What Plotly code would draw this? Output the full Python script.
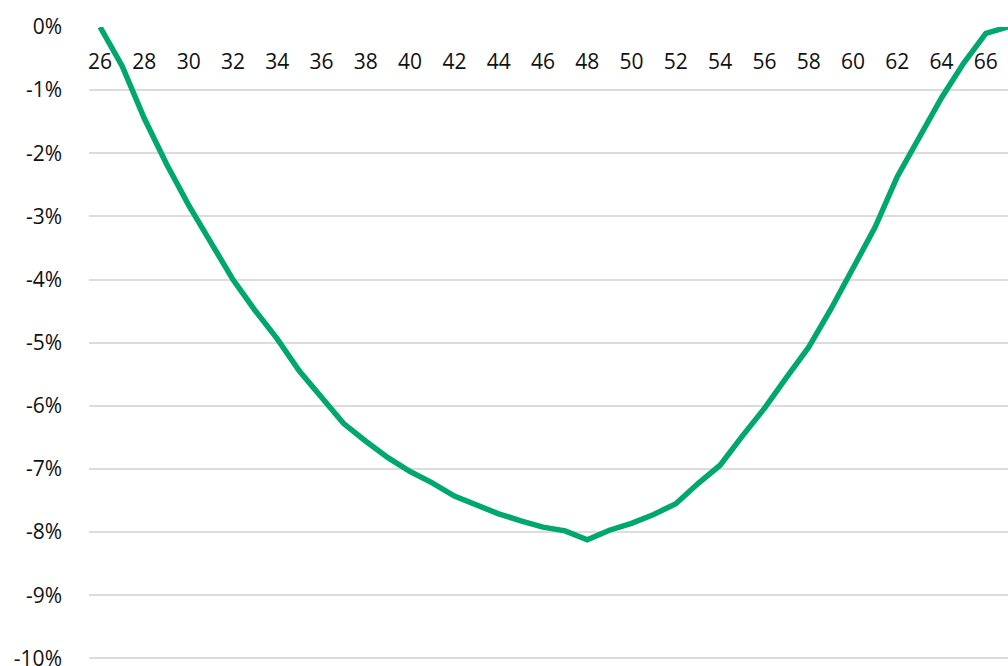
import plotly.graph_objects as go

ages = list(range(26, 68))
values = [0.0, -0.62, -1.45, -2.17, -2.82, -3.43, -4.00, -4.49, -4.94, -5.45,
          -5.88, -6.28, -6.56, -6.82, -7.04, -7.22, -7.43, -7.57, -7.71, -7.82,
          -7.92, -7.98, -8.12, -7.97, -7.86, -7.72, -7.55, -7.23, -6.94, -6.48,
          -6.04, -5.55, -5.07, -4.47, -3.82, -3.17, -2.37, -1.76, -1.12, -0.57,
          -0.10, 0.0]

y_tick_vals = [0, -1, -2, -3, -4, -5, -6, -7, -8, -9, -10]
y_tick_text = ["0%", "-1%", "-2%", "-3%", "-4%", "-5%", "-6%", "-7%", "-8%", "-9%", "-10%"]
x_tick_vals = list(range(26, 67, 2))
x_tick_text = [str(v) for v in x_tick_vals]

fig = go.Figure()
fig.add_trace(go.Scatter(
    x=ages, y=values, mode="lines",
    line=dict(color="#00A86E", width=5.5),
    hoverinfo="skip", showlegend=False,
))

font = dict(family="Open Sans", size=21, color="#111111")

fig.update_layout(
    width=1008, height=666,
    margin=dict(l=89, r=0, t=27, b=0, autoexpand=False),
    paper_bgcolor="white", plot_bgcolor="white",
    font=font,
    xaxis=dict(
        range=[25.5, 67.0],
        tickvals=x_tick_vals, ticktext=x_tick_text,
        showgrid=False, zeroline=False, showline=False, ticks="",
        anchor="free", position=1, side="bottom",
        ticklabelstandoff=20,
        ticklabeloverflow="allow",
        automargin=False,
        tickfont=font,
    ),
    yaxis=dict(
        range=[-10.12, 0],
        tickvals=y_tick_vals, ticktext=y_tick_text,
        showgrid=True, gridcolor="#dcdcdc", gridwidth=2,
        zeroline=False, showline=False, ticks="",
        ticklabelstandoff=26,
        ticklabeloverflow="allow",
        automargin=False,
        tickfont=font,
    ),
)

fig.write_html(
    "out.html",
    config={"displayModeBar": False, "staticPlot": True},
    post_script="document.body.style.margin='0';document.body.style.overflow='hidden';",
)
